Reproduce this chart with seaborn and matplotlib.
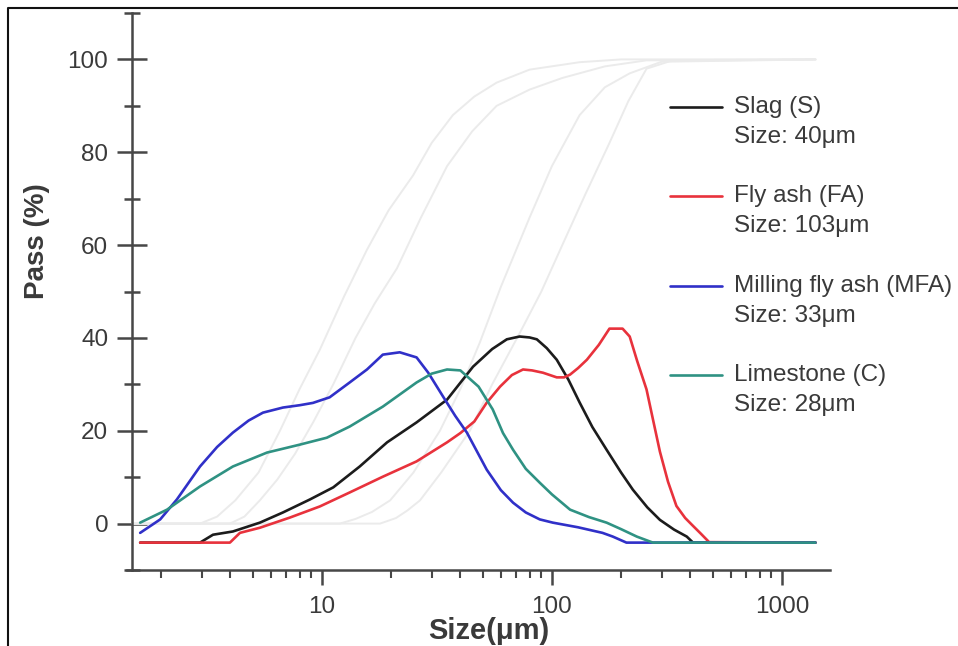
import numpy as np
import pandas as pd
import matplotlib
matplotlib.use("Agg")
import matplotlib.pyplot as plt
from matplotlib.lines import Line2D
from matplotlib.ticker import FixedLocator, LogLocator, NullFormatter, MultipleLocator, FixedFormatter
import seaborn as sns

# ---- particle size distributions (size in micrometres, pass in %) ----
slag_size = [1.62, 2.95, 3.36, 4.1, 5.37, 6.77, 8.87, 11.2, 14.6, 19.2, 25.8, 35, 45.4, 55,
             63.7, 72.4, 80, 86, 95, 105, 118, 132, 150, 173, 200, 225, 260, 295, 340, 386,
             411, 1400]
slag_pass = [-4.1, -4.1, -2.4, -1.7, 0.2, 2.4, 5.2, 7.8, 12.3, 17.5, 21.8, 26.7, 33.8, 37.6,
             39.7, 40.3, 40.1, 39.7, 37.8, 35.3, 31.0, 26.1, 20.8, 15.9, 11.0, 7.3, 3.5, 0.8,
             -1.3, -2.8, -4.1, -4.1]

fa_size = [1.62, 3.98, 4.4, 5.37, 7.26, 9.8, 13.2, 18.4, 25.8, 35, 40, 46, 52, 59.5, 67,
           74.9, 82, 91.5, 105, 113, 120, 130, 142, 160, 178, 203, 218, 235, 258, 275, 295,
           320, 348, 380, 411, 445, 483, 1400]
fa_pass = [-4.1, -4.1, -2.0, -0.9, 1.3, 3.7, 6.7, 10.1, 13.4, 17.5, 19.5, 22.0, 26.0, 29.5,
           32.0, 33.2, 33.0, 32.5, 31.5, 31.5, 32.1, 33.5, 35.3, 38.5, 42.0, 42.0, 40.3,
           35.0, 28.9, 22.5, 15.5, 9.0, 3.8, 1.2, -0.5, -2.2, -4.0, -4.1]

mfa_size = [1.62, 1.98, 2.34, 2.95, 3.5, 4.1, 4.8, 5.54, 6.77, 8.0, 9.14, 10.8, 13.2, 15.7,
            18.4, 21.8, 25.8, 29, 33.6, 38, 42.7, 52.1, 60, 67.8, 77, 88.6, 101, 130, 166,
            184, 211, 1400]
mfa_pass = [-2.0, 0.9, 5.2, 12.3, 16.5, 19.6, 22.2, 23.9, 25.0, 25.5, 26.0, 27.2, 30.4,
            33.2, 36.4, 36.9, 35.8, 32.5, 27.4, 23.2, 19.6, 11.6, 7.2, 4.5, 2.4, 0.9, 0.2,
            -0.8, -2.0, -2.8, -4.1, -4.1]

lime_size = [1.62, 2.12, 2.95, 4.1, 5.77, 8.0, 10.5, 13.2, 18.4, 25.8, 30, 35, 40, 48,
             55.3, 61.3, 67.8, 77, 88.6, 100, 120, 145, 173, 200, 234, 275, 1400]
lime_pass = [0.2, 3.0, 8.0, 12.3, 15.3, 17.0, 18.5, 20.9, 25.2, 30.4, 32.3, 33.2, 33.0,
             29.5, 24.6, 19.5, 15.9, 11.8, 8.8, 6.3, 3.0, 1.4, 0.2, -1.2, -2.8, -4.1, -4.1]

# faint cumulative passing curves
cum_a_size = [1.5, 2.95, 3.5, 4.2, 5.3, 6.57, 8.0, 9.8, 12.5, 15.7, 19.5, 24.9, 30, 37.1,
              46, 57.5, 80, 132, 200, 1400]
cum_a_pass = [0, 0, 1.5, 5, 11, 20, 29, 37.5, 49, 59, 67.5, 75, 82, 88, 92, 95, 97.8,
              99.4, 100, 100]
cum_b_size = [1.5, 3.98, 4.6, 5.37, 6.4, 7.63, 9.2, 11.2, 14, 17, 21.2, 27, 35, 45, 57.5,
              80, 111, 170, 258, 1400]
cum_b_pass = [0, 0, 1.5, 5, 9.5, 15, 22, 30, 40, 47.5, 55, 66, 77, 84.5, 90, 93.5, 96,
              98.5, 99.8, 100]
cum_c_size = [1.5, 11.97, 14, 16.5, 19.8, 25, 32.6, 40, 48.6, 60, 80.1, 100, 132, 170,
              218, 300, 1400]
cum_c_pass = [0, 0, 1, 2.5, 5, 11, 20, 29, 39, 51, 66, 77, 88, 94, 97, 99.5, 100]
cum_d_size = [1.5, 17.9, 21, 23.5, 26.7, 33, 44.0, 55, 72.4, 90, 111, 140, 178, 215, 258,
              330, 1400]
cum_d_pass = [0, 0, 1.2, 2.8, 5, 11, 20, 30, 41, 50, 60, 71, 82, 91, 98, 99.7, 100]

series_names = ["Slag (S)", "Fly ash (FA)", "Milling fly ash (MFA)", "Limestone (C)"]
series_sizes = ["Size: 40μm", "Size: 103μm", "Size: 33μm", "Size: 28μm"]
series_colors = ["#1c1c1c", "#e8323c", "#3030c8", "#2f9283"]

y_ticks = [0, 20, 40, 60, 80, 100]
x_ticks = [10, 100, 1000]
x_tick_labels = ["10", "100", "1000"]

# ---- figure ----
sns.set_theme(style="ticks")
plt.rcParams["font.family"] = ["Liberation Sans", "DejaVu Sans"]

W, H = 958, 646
fig = plt.figure(figsize=(W / 100, H / 100), dpi=100)
ax_l, ax_r, ax_t, ax_b = 127, 830, 13, 570
ax = fig.add_axes([ax_l / W, (H - ax_b) / H, (ax_r - ax_l) / W, (ax_b - ax_t) / H])

cum_frames = []
for name, xs, ys in [("A", cum_a_size, cum_a_pass), ("B", cum_b_size, cum_b_pass),
                     ("C", cum_c_size, cum_c_pass), ("D", cum_d_size, cum_d_pass)]:
    cum_frames.append(pd.DataFrame({"size": xs, "pass": ys, "curve": name}))
cum_df = pd.concat(cum_frames, ignore_index=True)
sns.lineplot(data=cum_df, x="size", y="pass", units="curve", estimator=None,
             color="#ebebeb", lw=1.4, ax=ax, legend=False)

frames = []
for name, xs, ys in zip(series_names,
                        [slag_size, fa_size, mfa_size, lime_size],
                        [slag_pass, fa_pass, mfa_pass, lime_pass]):
    frames.append(pd.DataFrame({"size": xs, "pass": ys, "material": name}))
psd = pd.concat(frames, ignore_index=True)
sns.lineplot(data=psd, x="size", y="pass", hue="material", hue_order=series_names,
             palette=series_colors, estimator=None, lw=1.9, ax=ax, legend=False)
for ln in ax.get_lines():
    ln.set_solid_joinstyle("round")

ax.set_xscale("log")
ax.set_xlim(1.42, 1620)
ax.set_ylim(-10, 110)

ax.xaxis.set_major_locator(FixedLocator(x_ticks))
ax.xaxis.set_major_formatter(FixedFormatter(x_tick_labels))
ax.xaxis.set_minor_locator(LogLocator(base=10, subs=np.arange(2, 10)))
ax.xaxis.set_minor_formatter(NullFormatter())
ax.set_yticks(y_ticks)
ax.yaxis.set_minor_locator(MultipleLocator(10))

spine_c = "#474747"
for s in ["top", "right"]:
    ax.spines[s].set_visible(False)
for s in ["left", "bottom"]:
    ax.spines[s].set_color(spine_c)
    ax.spines[s].set_linewidth(1.8)
ax.spines["left"].set_position(("data", 1.5))

ax.tick_params(axis="y", which="major", direction="inout", length=21, width=1.8,
               color=spine_c, labelsize=17.5, labelcolor="#3a3a3a", pad=7)
ax.tick_params(axis="y", which="minor", direction="inout", length=11, width=1.8, color=spine_c)
ax.tick_params(axis="x", which="major", direction="out", length=11, width=1.8,
               color=spine_c, labelsize=17.5, labelcolor="#3a3a3a", pad=8)
ax.tick_params(axis="x", which="minor", direction="out", length=6, width=1.5, color=spine_c)

ax.set_xlabel("Size(μm)", fontsize=21, fontweight="bold", color="#3a3a3a")
ax.set_ylabel("Pass (%)", fontsize=20, fontweight="bold", color="#3a3a3a")
ax.xaxis.set_label_coords((489 - ax_l) / (ax_r - ax_l), (ax_b - 617) / (ax_b - ax_t))
ax.yaxis.set_label_coords((50 - ax_l) / (ax_r - ax_l), (ax_b - 241) / (ax_b - ax_t))


def fx(px):
    return (px - ax_l) / (ax_r - ax_l)


def fy(py):
    return (ax_b - py) / (ax_b - ax_t)


# legend: handle aligned with the material name, size on the line below
for i, (name, size, col) in enumerate(zip(series_names, series_sizes, series_colors)):
    py = 107 + i * 89.3
    ax.plot([fx(670), fx(722)], [fy(py), fy(py)], color=col, lw=1.9,
            transform=ax.transAxes, clip_on=False)
    ax.text(fx(734), fy(py), name, transform=ax.transAxes, fontsize=17.5,
            color="#3a3a3a", va="center", ha="left")
    ax.text(fx(734), fy(py + 30), size, transform=ax.transAxes, fontsize=17.5,
            color="#3a3a3a", va="center", ha="left")

# frame lines along the top and left edges of the figure
fig.add_artist(Line2D([8 / W, 8 / W, 1.0], [0.0, 1 - 8 / H, 1 - 8 / H],
                      transform=fig.transFigure, color="#111111", lw=1.5))

fig.savefig("out.png", dpi=100)
